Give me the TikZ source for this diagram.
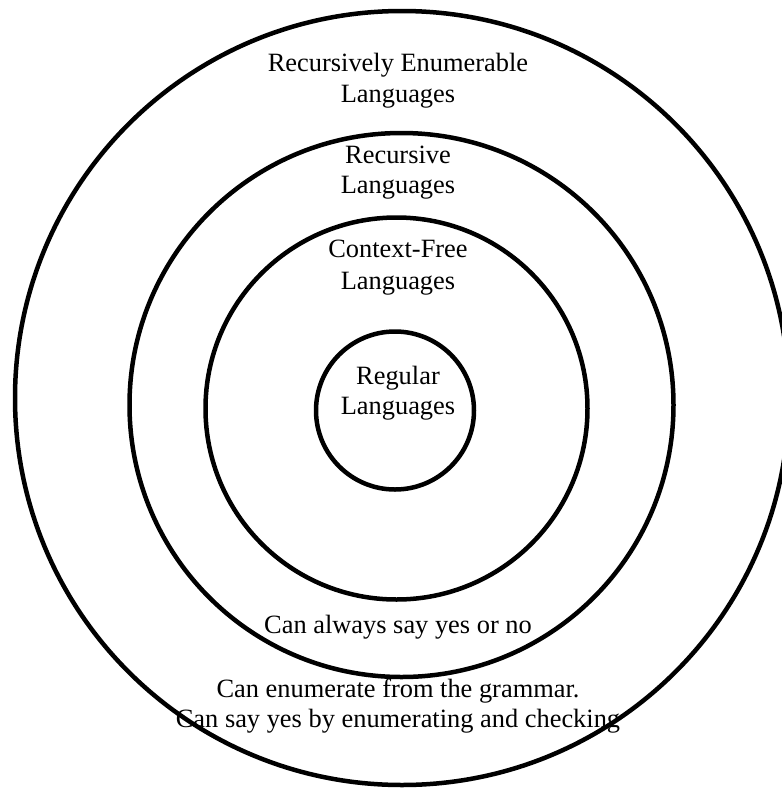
\documentclass[tikz,border=0pt]{standalone}
\usepackage{fontspec}
\setmainfont{Liberation Serif}
\begin{document}
\begin{tikzpicture}[x=1pt,y=-1pt,
  ring/.style={draw=black,line width=4.5pt},
  lbl/.style={font=\fontsize{26.4}{30.5}\selectfont,inner sep=0pt,anchor=base}]
\useasboundingbox (0,0) rectangle (782,788);
\fill[white] (0,0) rectangle (782,788);
% rings
\draw[ring] (402,398) circle[radius=387];
\draw[ring] (401.5,405) circle[radius=272];
\draw[ring] (396.5,408.5) circle[radius=191];
\draw[ring] (395,410.5) circle[radius=79];
% labels
\node[lbl] (re1) at (398,71) {Recursively Enumerable};
\node[lbl] (re2) at (398,102) {Languages};
\node[lbl] (rec1) at (398,163) {Recursive};
\node[lbl] (rec2) at (398,193) {Languages};
\node[lbl] (cf1) at (398,257) {Context-Free};
\node[lbl] (cf2) at (398,289) {Languages};
\node[lbl] (reg1) at (398,384) {Regular};
\node[lbl] (reg2) at (398,414) {Languages};
\node[lbl] (yesno) at (398,633) {Can always say yes or no};
\node[lbl] (enum1) at (398,697) {Can enumerate from the grammar.};
\node[lbl] (enum2) at (398,727) {Can say yes by enumerating and checking};
\end{tikzpicture}
\end{document}
